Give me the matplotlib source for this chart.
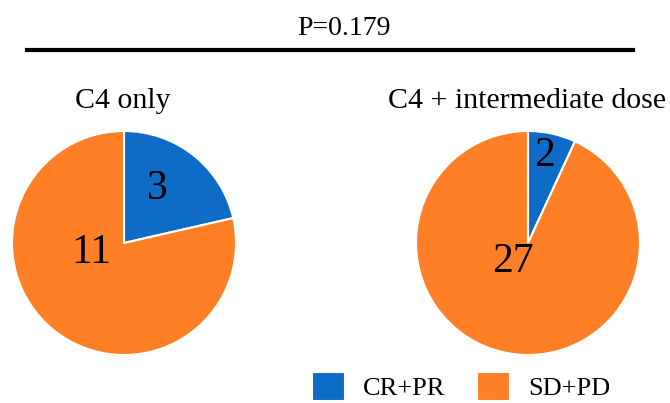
import matplotlib.pyplot as plt
from matplotlib.lines import Line2D

plt.rcParams['font.family'] = ['Liberation Serif', 'DejaVu Serif']

categories = ['CR+PR', 'SD+PD']
groups = ['C4 only', 'C4 + intermediate dose']
counts = [[3, 11], [2, 27]]
p_text = 'P=0.179'
colors = ['#0f6cc6', '#fe7f25']

# manual label spots inside each pie (pie radius = 1)
label_pos = [[(0.295, 0.485), (-0.29, -0.09)],
             [(0.143, 0.775), (-0.134, -0.17)]]

W, H = 670, 403
fig = plt.figure(figsize=(W / 100, H / 100), dpi=100)

centers = [124, 528]
title_x = [122.5, 526.5]
R = 112
cy = 243
wedges = None
for i, cx in enumerate(centers):
    ax = fig.add_axes([(cx - R) / W, (H - cy - R) / H, 2 * R / W, 2 * R / H])
    wedges, _ = ax.pie(counts[i], colors=colors, startangle=90, counterclock=False,
                       wedgeprops=dict(edgecolor='white', linewidth=1.5))
    ax.set_xlim(-1, 1)
    ax.set_ylim(-1, 1)
    for v, (x, y) in zip(counts[i], label_pos[i]):
        ax.text(x, y, str(v), fontsize=30, ha='center', va='center')
    fig.text(title_x[i] / W, 1 - 108 / H, groups[i], fontsize=21.5, ha='center', va='baseline')

fig.text(344 / W, 1 - 35 / H, p_text, fontsize=20, ha='center', va='baseline')
fig.add_artist(Line2D([27 / W, 633 / W], [1 - 50 / H, 1 - 50 / H], color='black', lw=3))

fig.legend(wedges, categories, loc='upper left', bbox_to_anchor=(312 / W, 1 - 372 / H),
           ncol=2, frameon=False, fontsize=19, handlelength=1.25, handleheight=1.3,
           handletextpad=0.68, columnspacing=1.2, borderpad=0, borderaxespad=0)

fig.savefig('out.png', dpi=100)
